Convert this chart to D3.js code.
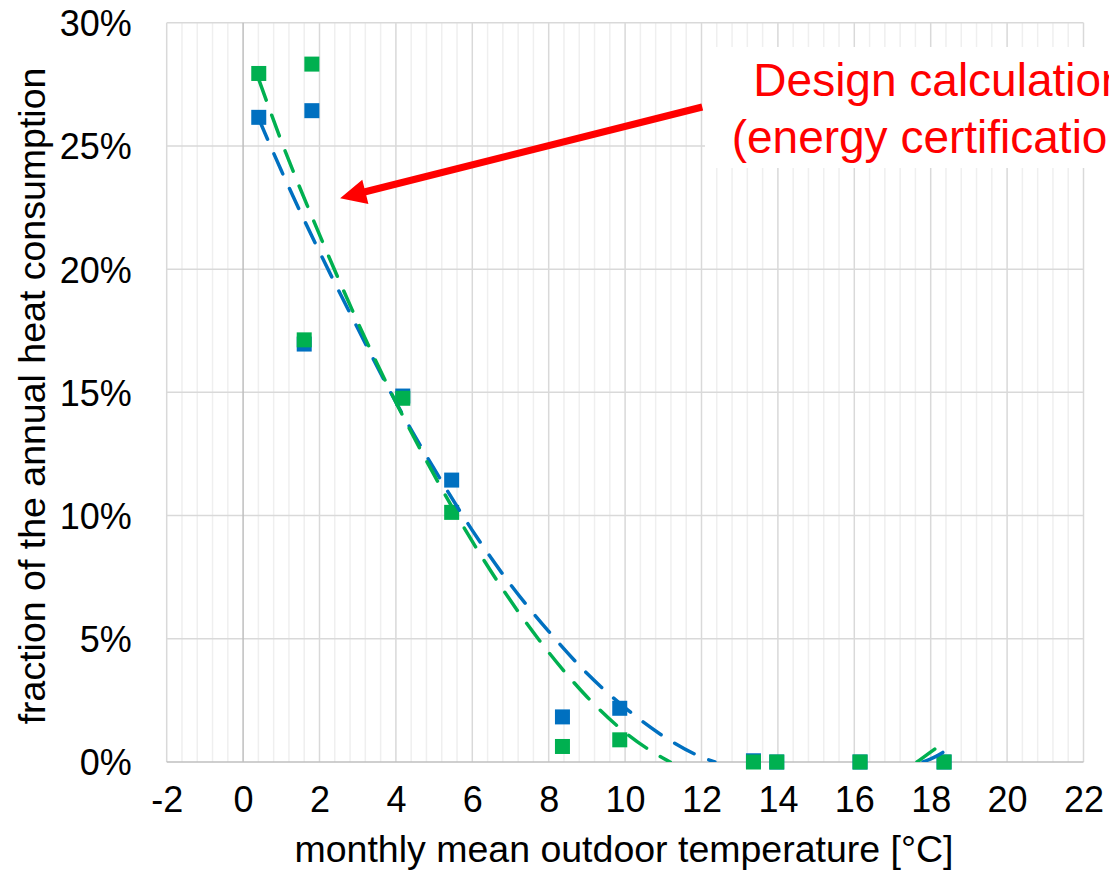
<!DOCTYPE html>
<html>
<head>
<meta charset="utf-8">
<script src="https://cdn.jsdelivr.net/npm/d3@7"></script>
<style>
  html, body { margin: 0; padding: 0; background: #fff; }
  svg { display: block; font-family: "Liberation Sans", Arial, sans-serif; }
</style>
</head>
<body>
<svg id="chart" width="1109" height="880"></svg>
<script>
// Monthly mean outdoor temperature [°C] and fraction of annual heat consumption
const tempBlue  = [0.41, 1.80, 1.60, 4.18, 5.46, 8.36, 9.86, 13.36, 13.97, 16.15, 18.35];
const fracBlue  = [0.2616, 0.2643, 0.1696, 0.1485, 0.1144, 0.0183, 0.0218, 0.0005, 0.0, 0.0, 0.0];
const tempGreen = [0.41, 1.80, 1.60, 4.18, 5.46, 8.36, 9.86, 13.36, 13.97, 16.15, 18.35];
const fracGreen = [0.2794, 0.2832, 0.1713, 0.1476, 0.1013, 0.0063, 0.0090, 0.0, 0.0, 0.0, 0.0];

// Polynomial trend lines (visible parts; null splits the segment hidden below 0 %)
const trendBlueX  = [0.41, 1, 2, 3, 4, 5, 6, 7, 8, 9, 10, 11, 12, 12.35, null, 17.8, 18.1, 18.35];
const trendBlueY  = [0.261, 0.240, 0.207, 0.176, 0.146, 0.119, 0.094, 0.072, 0.053, 0.036, 0.022, 0.0105, 0.002, 0.0, null, 0.0, 0.002, 0.0042];
const trendGreenX = [0.41, 1, 2, 3, 4, 5, 6, 7, 8, 9, 10, 11, 11.18, null, 17.64, 17.95, 18.35];
const trendGreenY = [0.277, 0.252, 0.214, 0.1785, 0.146, 0.1165, 0.0895, 0.0655, 0.0445, 0.0265, 0.012, 0.0015, 0.0, null, 0.0, 0.0035, 0.008];

const xTicks = [-2, 0, 2, 4, 6, 8, 10, 12, 14, 16, 18, 20, 22];
const yTicks = [0, 0.05, 0.10, 0.15, 0.20, 0.25, 0.30];

const blue = "#0070C0", green = "#00B050", red = "#FF0000";
const svg = d3.select("#chart");

const x = d3.scaleLinear().domain([-2, 22]).range([166.7, 1083.5]);
const y = d3.scaleLinear().domain([0, 0.30]).range([762, 22.7]);

// Minor vertical gridlines every 0.4 °C
const minor = d3.range(-2, 22.0001, 0.4).filter(v => Math.abs(v / 2 - Math.round(v / 2)) > 1e-6);
svg.append("g").selectAll("line").data(minor).join("line")
  .attr("x1", d => x(d)).attr("x2", d => x(d))
  .attr("y1", y(0.30)).attr("y2", y(0))
  .attr("stroke", "#efefef").attr("stroke-width", 1.5);

// Major gridlines
svg.append("g").selectAll("line").data(xTicks.filter(d => d !== 0)).join("line")
  .attr("x1", d => x(d)).attr("x2", d => x(d))
  .attr("y1", y(0.30)).attr("y2", y(0))
  .attr("stroke", "#d9d9d9").attr("stroke-width", 1.5);
svg.append("g").selectAll("line").data(yTicks.filter(d => d !== 0)).join("line")
  .attr("x1", x(-2)).attr("x2", x(22))
  .attr("y1", d => y(d)).attr("y2", d => y(d))
  .attr("stroke", "#d9d9d9").attr("stroke-width", 1.5);

// Axis lines (value axis crosses at 0 °C)
svg.append("line").attr("x1", x(0)).attr("x2", x(0)).attr("y1", y(0.30)).attr("y2", y(0))
  .attr("stroke", "#bfbfbf").attr("stroke-width", 1.5);
svg.append("line").attr("x1", x(-2)).attr("x2", x(22)).attr("y1", y(0)).attr("y2", y(0))
  .attr("stroke", "#bfbfbf").attr("stroke-width", 1.5);

// Tick labels
const xAxis = svg.append("g").attr("transform", `translate(0,${y(0) + 21})`)
  .call(d3.axisBottom(x).tickValues(xTicks).tickSize(0).tickFormat(d3.format("d")));
xAxis.select(".domain").remove();
xAxis.selectAll("text").attr("font-size", 36).attr("fill", "#000")
  .attr("font-family", "'Liberation Sans', Arial, sans-serif").attr("dy", "0.71em")
  .text(d => d < 0 ? "-" + Math.abs(d) : d);

const yAxis = svg.append("g").attr("transform", `translate(${x(-2) - 32},0)`)
  .call(d3.axisLeft(y).tickValues(yTicks).tickSize(0).tickFormat(d3.format(".0%")));
yAxis.select(".domain").remove();
yAxis.selectAll("text").attr("font-size", 36).attr("fill", "#000")
  .attr("font-family", "'Liberation Sans', Arial, sans-serif").attr("dy", "0.36em");

// Axis titles
svg.append("text").attr("x", 624).attr("y", 862).attr("text-anchor", "middle")
  .attr("font-size", 37.5).attr("fill", "#000")
  .text("monthly mean outdoor temperature [°C]");
svg.append("text").attr("transform", "translate(45,396) rotate(-90)")
  .attr("text-anchor", "middle").attr("font-size", 37.5).attr("fill", "#000")
  .text("fraction of the annual heat consumption");

// Plot clip
svg.append("clipPath").attr("id", "plot")
  .append("rect").attr("x", x(-2)).attr("y", y(0.30)).attr("width", x(22) - x(-2)).attr("height", y(0) - y(0.30));

// Markers
const sq = 15;
function markers(xs, ys, color) {
  svg.append("g").selectAll("rect").data(xs.map((d, i) => [d, ys[i]])).join("rect")
    .attr("x", d => x(d[0]) - sq / 2).attr("y", d => y(d[1]) - sq / 2)
    .attr("width", sq).attr("height", sq).attr("fill", color);
}
markers(tempBlue, fracBlue, blue);
markers(tempGreen, fracGreen, green);

// Trend lines
const line = d3.line()
  .defined(d => d[0] !== null)
  .x(d => x(d[0])).y(d => y(d[1]))
  .curve(d3.curveMonotoneX);
function trend(xs, ys, color) {
  svg.append("path").datum(xs.map((d, i) => [d, ys[i]]))
    .attr("d", line).attr("fill", "none").attr("stroke", color)
    .attr("stroke-width", 3.5).attr("stroke-linecap", "round")
    .attr("stroke-dasharray", "22 16").attr("clip-path", "url(#plot)");
}
trend(trendBlueX, trendBlueY, blue);
trend(trendGreenX, trendGreenY, green);

// Annotation: design calculation
svg.append("rect").attr("x", 705).attr("y", 47).attr("width", 420).attr("height", 121).attr("fill", "#fff");
const note = svg.append("text").attr("text-anchor", "middle").attr("font-size", 46).attr("fill", red);
note.append("tspan").attr("x", 940).attr("y", y(0.2703)).text("Design calculation");
note.append("tspan").attr("x", 940).attr("y", y(0.2472)).text("(energy certification)");

// Arrow from the note to the curves
const tail = [x(12.02), y(0.2658)], tip = [x(2.54), y(0.2288)];
const dx = tail[0] - tip[0], dy = tail[1] - tip[1], len = Math.hypot(dx, dy);
const ux = dx / len, uy = dy / len, px = -uy, py = ux;
const headL = 26, headW = 12.5, shaftW = 3.6;
const bx = tip[0] + ux * headL, by = tip[1] + uy * headL;
const arrowPts = [
  [tip[0], tip[1]],
  [bx + px * headW, by + py * headW],
  [bx + px * shaftW, by + py * shaftW],
  [tail[0] + px * shaftW, tail[1] + py * shaftW],
  [tail[0] - px * shaftW, tail[1] - py * shaftW],
  [bx - px * shaftW, by - py * shaftW],
  [bx - px * headW, by - py * headW]
];
svg.append("path").attr("d", "M" + arrowPts.map(p => p.join(",")).join("L") + "Z").attr("fill", red);
</script>
</body>
</html>
